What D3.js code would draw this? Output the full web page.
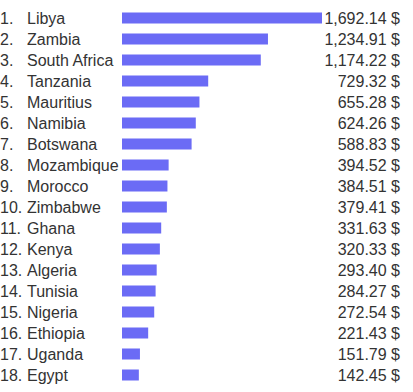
<!DOCTYPE html>
<html><head><meta charset="utf-8">
<script src="https://cdn.jsdelivr.net/npm/d3@7"></script>
<style>body{margin:0;background:#fff;}svg{display:block;}</style>
</head><body>
<script>
const countries = ["Libya","Zambia","South Africa","Tanzania","Mauritius","Namibia","Botswana","Mozambique","Morocco","Zimbabwe","Ghana","Kenya","Algeria","Tunisia","Nigeria","Ethiopia","Uganda","Egypt"];
const values = [1692.14,1234.91,1174.22,729.32,655.28,624.26,588.83,394.52,384.51,379.41,331.63,320.33,293.40,284.27,272.54,221.43,151.79,142.45];

const W = 413, H = 392;
const svg = d3.select("body").append("svg").attr("width", W).attr("height", H);
const data = countries.map((c,i)=>({c, v: values[i], i}));

const x = d3.scaleLinear().domain([0, d3.max(values)]).range([122, 322]);
const y = d3.scaleBand().domain(d3.range(countries.length)).range([7.5, 385.5]).paddingInner(0.476).paddingOuter(0.238);

const fmt = d3.format(",.2f");
const font = "'Liberation Sans', Arial, sans-serif";

svg.selectAll("rect.bar").data(data).join("rect")
  .attr("class","bar")
  .attr("x", x(0))
  .attr("y", d => y(d.i))
  .attr("width", d => x(d.v) - x(0))
  .attr("height", y.bandwidth())
  .attr("fill", "#6b6bf5");

const cy = d => y(d.i) + y.bandwidth()/2;

svg.selectAll("text.num").data(data).join("text")
  .attr("class","num")
  .attr("x", 0).attr("y", cy).attr("dy","0.35em")
  .attr("font-family", font).attr("font-size", 16).attr("fill","#333")
  .text(d => (d.i+1) + ".");

svg.selectAll("text.name").data(data).join("text")
  .attr("class","name")
  .attr("x", 27).attr("y", cy).attr("dy","0.35em")
  .attr("font-family", font).attr("font-size", 16).attr("fill","#333")
  .text(d => d.c);

svg.selectAll("text.val").data(data).join("text")
  .attr("class","val")
  .attr("x", 400).attr("y", cy).attr("dy","0.35em")
  .attr("text-anchor","end")
  .attr("font-family", font).attr("font-size", 16).attr("fill","#333")
  .text(d => fmt(d.v) + " $");
</script>
</body></html>
